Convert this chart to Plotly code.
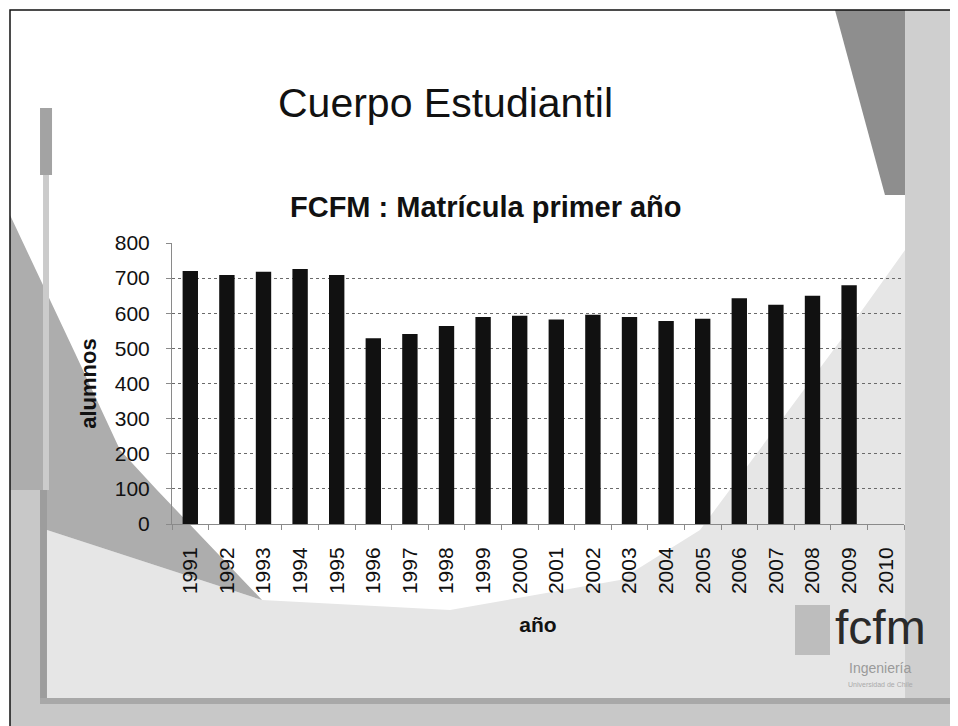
import plotly.graph_objects as go

# ---- data ----
years = [str(y) for y in range(1991, 2011)]
matricula = [720, 709, 718, 726, 709, 529, 541, 564, 589, 593,
             582, 596, 589, 578, 584, 643, 624, 650, 680, None]
y_ticks = [0, 100, 200, 300, 400, 500, 600, 700, 800]

OFF = 8  # page body margin of the browser
W, H = 958 - OFF, 726 - OFF
ML, MR, MT, MB = 172 - OFF, 54, 243 - OFF, 202
PW, PH = W - ML - MR, H - MT - MB
FONT = "Liberation Sans, Arial, sans-serif"


def px(x):
    return (x - OFF - ML) / PW


def py(y):
    return (H - MB - (y - OFF)) / PH


def path(points):
    return "M " + " L ".join(f"{px(a):.4f},{py(b):.4f}" for a, b in points) + " Z"


fig = go.Figure()
fig.add_trace(go.Bar(x=years, y=matricula, marker_color="#111111",
                     marker_line_width=0, showlegend=False))

shapes = []
def deco(points, color):
    shapes.append(dict(type="path", xref="paper", yref="paper", path=path(points),
                       fillcolor=color, line_width=0, layer="below"))

# slide decoration (background swooshes)
deco([(10, 470), (40, 470), (47, 530), (262, 600), (450, 610), (620, 580),
      (700, 530), (843, 337), (905, 250), (960, 200), (960, 730), (10, 730)], "#e6e6e6")
deco([(905, 10), (960, 10), (960, 730), (905, 730)], "#cfcfcf")
deco([(835, 10), (905, 10), (905, 195), (885, 195)], "#8e8e8e")
deco([(10, 215), (75, 353), (120, 450), (157, 490), (262, 600), (47, 530), (10, 513)], "#adadad")
deco([(10, 490), (40, 490), (40, 702), (960, 702), (960, 730), (10, 730)], "#c8c8c8")
deco([(40, 490), (47, 490), (47, 700), (40, 700)], "#9d9d9d")
deco([(40, 698), (960, 698), (960, 704), (40, 704)], "#a8a8a8")
deco([(40, 108), (52, 108), (52, 175), (40, 175)], "#a3a3a3")
deco([(43, 175), (49, 175), (49, 490), (43, 490)], "#cbcbcb")
deco([(795, 605), (830, 605), (830, 655), (795, 655)], "#bdbdbd")
shapes.append(dict(type="rect", xref="paper", yref="paper",
                   x0=px(10), x1=px(962), y0=py(730), y1=py(10),
                   line=dict(color="#111", width=1.5), layer="below"))

annotations = [
    dict(text="Cuerpo Estudiantil", x=px(445), y=py(103), xref="paper", yref="paper",
         showarrow=False, xanchor="center", yanchor="middle",
         font=dict(family=FONT, size=41, color="#111")),
    dict(text="<b>FCFM : Matrícula primer año</b>", x=px(486), y=py(207),
         xref="paper", yref="paper", showarrow=False, xanchor="center", yanchor="middle",
         font=dict(family=FONT, size=29, color="#111")),
    dict(text="fcfm", x=px(880), y=py(627), xref="paper", yref="paper",
         showarrow=False, xanchor="center", yanchor="middle",
         font=dict(family=FONT, size=48, color="#2a2a2a")),
    dict(text="Ingeniería", x=px(880), y=py(668), xref="paper", yref="paper",
         showarrow=False, xanchor="center", yanchor="middle",
         font=dict(family=FONT, size=14, color="#9a9a9a")),
    dict(text="Universidad de Chile", x=px(880), y=py(684), xref="paper", yref="paper",
         showarrow=False, xanchor="center", yanchor="middle",
         font=dict(family=FONT, size=7, color="#aaaaaa")),
]

fig.update_layout(
    width=W, height=H,
    margin=dict(l=ML, r=MR, t=MT, b=MB, autoexpand=False),
    paper_bgcolor="white", plot_bgcolor="rgba(0,0,0,0)",
    bargap=0.58,
    font=dict(family=FONT, color="#111"),
    shapes=shapes, annotations=annotations,
    showlegend=False,
)
fig.update_xaxes(
    type="category", categoryorder="array", categoryarray=years,
    showline=True, linecolor="#8a8a8a", linewidth=1,
    ticks="outside", tickson="boundaries", ticklen=5, tickcolor="#8a8a8a",
    tickangle=-90, tickfont=dict(family=FONT, size=21, color="#111"),
    ticklabelstandoff=14, showgrid=False,
    title=dict(text="<b>año</b>", font=dict(family=FONT, size=21, color="#111"), standoff=24),
)
fig.update_yaxes(
    range=[0, 800], tickvals=y_ticks,
    showline=True, linecolor="#8a8a8a", linewidth=1,
    ticks="outside", ticklen=5, tickcolor="#8a8a8a",
    tickfont=dict(family=FONT, size=21, color="#111"), ticklabelstandoff=12,
    showgrid=True, gridcolor="#6a6a6a", gridwidth=1, griddash="dot",
    zeroline=False,
    title=dict(text="<b>alumnos</b>", font=dict(family=FONT, size=22, color="#111"), standoff=12),
)

fig.write_html("out.html")
